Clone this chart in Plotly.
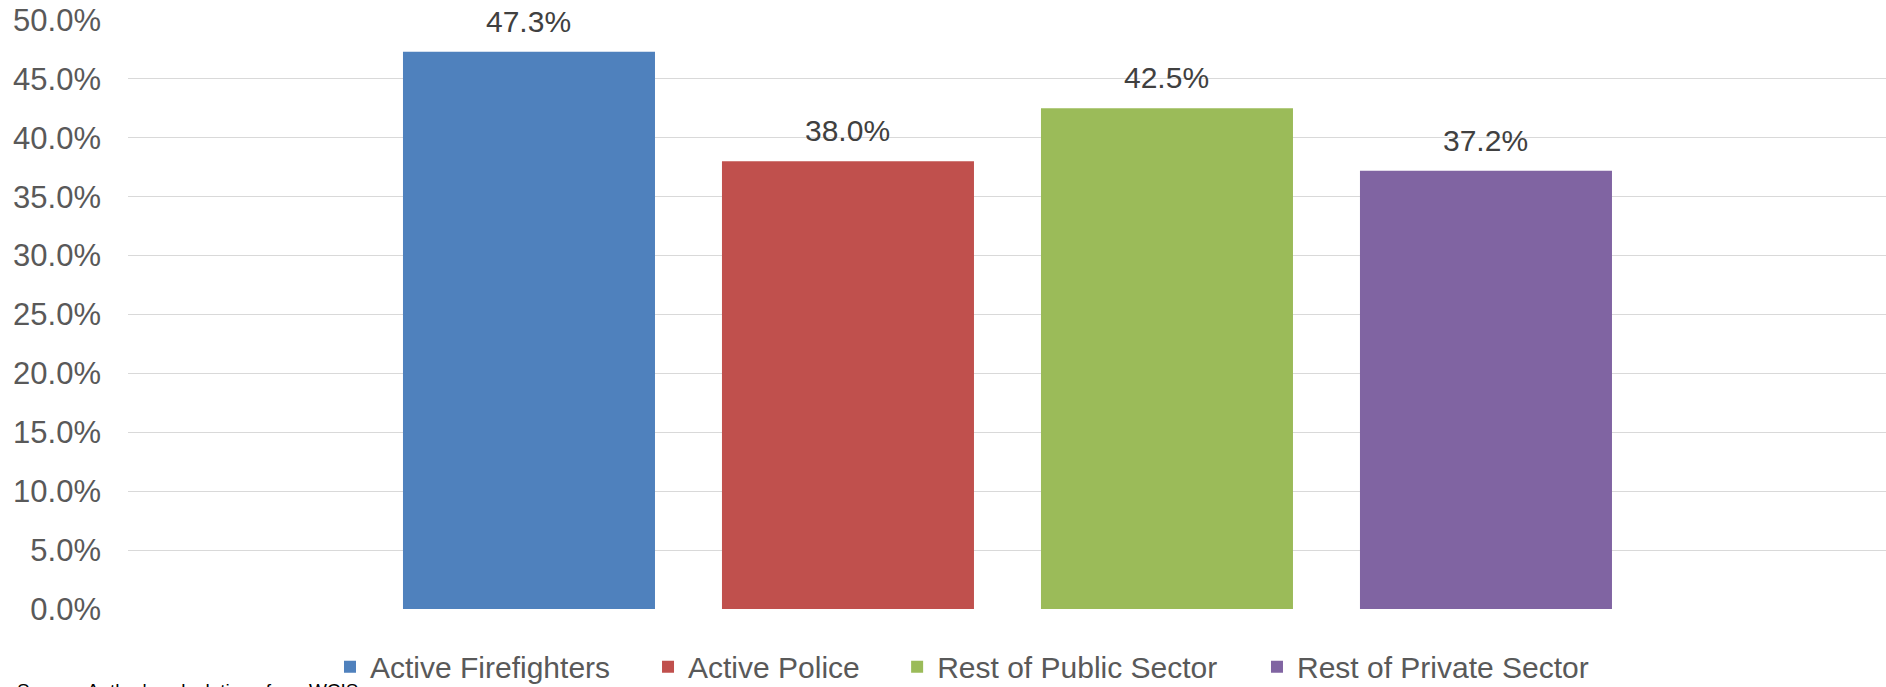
import plotly.graph_objects as go

categories = ["Active Firefighters", "Active Police", "Rest of Public Sector", "Rest of Private Sector"]
values = [0.473, 0.380, 0.425, 0.372]
colors = ["#4F81BD", "#C0504D", "#9BBB59", "#8064A2"]
y_ticks = [i * 0.05 for i in range(11)]
y_tick_labels = [f"{v*100:.1f}%" for v in y_ticks]
source_text = "Source: Author's calculations from WCIS"

# legend x positions (paper fraction) for each series entry
legend_x = [0.1149, 0.2958, 0.4375, 0.6422]
legend_ids = ["legend", "legend2", "legend3", "legend4"]

fig = go.Figure()
for cat, val, col, lid in zip(categories, values, colors, legend_ids):
    fig.add_trace(go.Bar(
        x=[cat], y=[val], name=cat,
        marker=dict(color=col, line=dict(width=0)),
        hoverinfo="skip", legend=lid,
    ))

annotations = []
for cat, val in zip(categories, values):
    annotations.append(dict(
        x=cat, y=val, xref="x", yref="y",
        text=f"{val*100:.1f}%", showarrow=False,
        yanchor="bottom", yshift=12,
        font=dict(family="Liberation Sans, Arial, sans-serif", size=30, color="#404040"),
    ))
annotations.append(dict(
    x=0, y=-0.117, xref="paper", yref="paper", xanchor="left", yanchor="top",
    xshift=-113,
    text=source_text, showarrow=False,
    font=dict(family="Liberation Sans, Arial, sans-serif", size=19, color="#000000"),
))

legend_font = dict(family="Liberation Sans, Arial, sans-serif", size=30, color="#595959")
legend_layouts = {}
for lid, lx in zip(legend_ids, legend_x):
    legend_layouts[lid] = dict(
        orientation="h", x=lx, xanchor="left", y=-0.098, yanchor="middle",
        font=legend_font, bgcolor="rgba(0,0,0,0)",
        itemclick=False, itemdoubleclick=False,
    )

fig.update_layout(
    width=1886, height=687,
    margin=dict(l=128, r=0, t=20, b=78, autoexpand=False),
    paper_bgcolor="white", plot_bgcolor="white",
    barmode="overlay", bargap=0.21,
    showlegend=True,
    xaxis=dict(
        type="category", categoryorder="array", categoryarray=categories,
        range=[-1.257, 4.254], showticklabels=False, showgrid=False,
        zeroline=False, showline=False, ticks="",
    ),
    yaxis=dict(
        range=[0, 0.5], tickvals=y_ticks, ticktext=y_tick_labels,
        showgrid=True, gridcolor="#D9D9D9", gridwidth=1.3,
        zeroline=False, showline=False, ticks="",
        ticklabelstandoff=26,
        tickfont=dict(family="Liberation Sans, Arial, sans-serif", size=31, color="#595959"),
    ),
    annotations=annotations,
    **legend_layouts,
)

fig.write_html(
    "out.html",
    config={"displayModeBar": False},
    post_script="document.body.style.margin='0';document.body.style.overflow='hidden';",
)
